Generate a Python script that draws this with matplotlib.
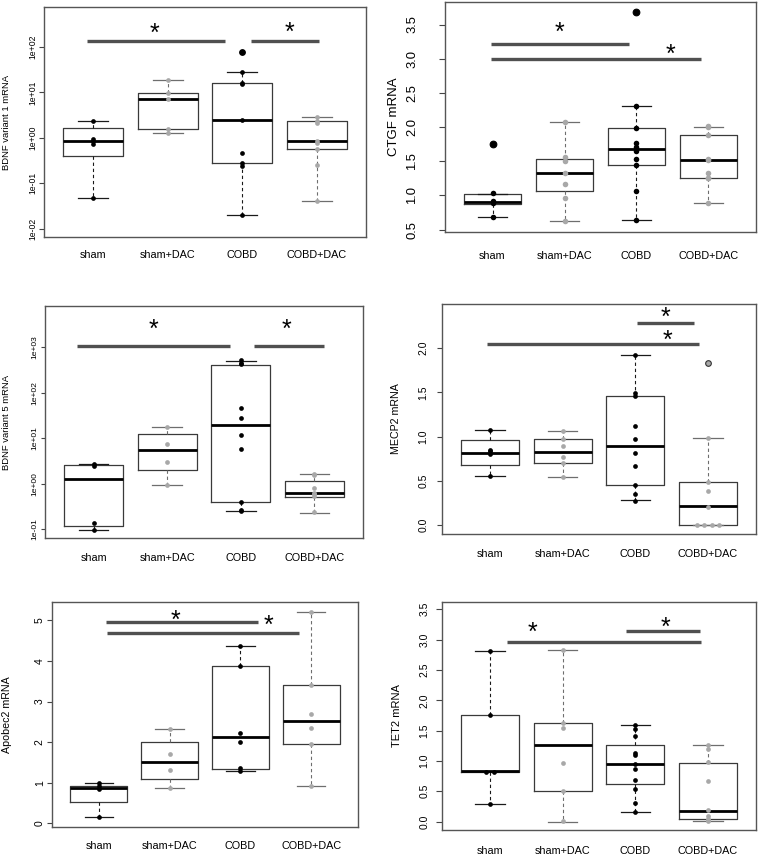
import matplotlib
matplotlib.use('Agg')
import matplotlib.pyplot as plt
import numpy as np

plt.rcParams['font.family'] = ['Liberation Sans', 'DejaVu Sans']

W, H = 758, 856
groups = ['sham', 'sham+DAC', 'COBD', 'COBD+DAC']
is_dac = [False, True, False, True]

# box stats per group: (lower whisker, q1, median, q3, upper whisker)
bdnf1_box = [(0.048, 0.40, 0.86, 1.63, 2.37), (1.29, 1.55, 7.0, 9.5, 19),
             (0.0197, 0.28, 2.45, 16, 28.6), (0.041, 0.58, 0.86, 2.4, 2.95)]
bdnf1_pts = [[2.37, 0.97, 0.85, 0.75, 0.048],
             [19, 9.7, 7.0, 1.6, 1.31],
             [77, 28.6, 16.3, 15.5, 2.45, 0.47, 0.286, 0.246, 0.0197],
             [2.95, 2.4, 2.1, 0.87, 0.76, 0.58, 0.26, 0.041]]

ctgf_box = [(0.69, 0.88, 0.91, 1.027, 1.027), (0.62, 1.07, 1.334, 1.534, 2.07),
            (0.64, 1.44, 1.68, 1.98, 2.31), (0.89, 1.26, 1.515, 1.88, 2.0)]
ctgf_pts = [[1.75, 1.03, 0.92, 0.885, 0.69],
            [2.07, 1.56, 1.51, 1.33, 1.17, 0.96, 0.62],
            [3.68, 2.31, 1.98, 1.77, 1.71, 1.65, 1.54, 1.45, 1.06, 0.64],
            [2.01, 2.0, 1.885, 1.54, 1.52, 1.33, 1.26, 1.25, 0.885]]

bdnf5_box = [(0.097, 0.115, 1.26, 2.55, 2.7), (0.94, 1.98, 5.36, 12.2, 17.7),
             (0.25, 0.385, 19.9, 416, 509), (0.23, 0.51, 0.62, 1.12, 1.64)]
bdnf5_pts = [[2.73, 2.38, 0.135, 0.0966],
             [17.7, 7.6, 2.97, 0.94],
             [525, 460, 437, 45.6, 28.4, 11.8, 5.83, 0.385, 0.266, 0.253],
             [1.64, 1.51, 0.78, 0.62, 0.60, 0.52, 0.237]]

mecp2_box = [(0.553, 0.677, 0.82, 0.959, 1.071), (0.541, 0.70, 0.831, 0.977, 1.064),
             (0.282, 0.455, 0.895, 1.459, 1.925), (0.0, 0.0, 0.214, 0.489, 0.989)]
mecp2_pts = [[1.071, 0.853, 0.84, 0.80, 0.556],
             [1.064, 0.977, 0.898, 0.767, 0.70, 0.541],
             [1.925, 1.489, 1.459, 1.12, 0.97, 0.82, 0.669, 0.459, 0.35, 0.278],
             [1.827, 0.989, 0.489, 0.387, 0.21, 0.0, 0.0, 0.0, 0.0]]

apobec2_box = [(0.165, 0.52, 0.873, 0.92, 1.005), (0.88, 1.087, 1.516, 2.01, 2.315),
               (1.293, 1.35, 2.125, 3.888, 4.374), (0.923, 1.944, 2.53, 3.40, 5.198)]
apobec2_pts = [[1.005, 0.93, 0.848, 0.165],
               [2.315, 1.72, 1.31, 0.88],
               [4.374, 3.888, 2.232, 2.01, 1.36, 1.293],
               [5.198, 3.40, 2.685, 2.356, 1.944, 0.923]]

tet2_box = [(0.292, 0.82, 0.835, 1.756, 2.807), (0.0, 0.512, 1.255, 1.618, 2.823),
            (0.154, 0.616, 0.952, 1.271, 1.585), (0.005, 0.044, 0.182, 0.974, 1.266)]
tet2_pts = [[2.807, 1.756, 0.826, 0.826, 0.292],
            [2.823, 1.624, 1.541, 0.963, 0.512, 0.005],
            [1.585, 1.53, 1.414, 1.128, 1.106, 0.947, 0.87, 0.682, 0.534, 0.314, 0.154],
            [1.266, 1.205, 0.985, 0.677, 0.187, 0.088, 0.05, 0.028, 0.005]]

log_ticks1 = [1e-2, 1e-1, 1, 10, 100]
log_ticks5 = [1e-1, 1, 10, 100, 1000]

panels = [
    dict(box=bdnf1_box, pts=bdnf1_pts, ylabel='BDNF variant 1 mRNA', log=True,
         px=(44, 7, 366, 237), ylim=(10 ** -2.18, 10 ** 2.88),
         yticks=log_ticks1, ylabels=['1e-02', '1e-01', '1e+00', '1e+01', '1e+02'],
         tfs=6.2, tpad=1.4, tlen=3.6, ylx=6.5, ylfs=6.8, xpad=9.4, ms=3.4,
         bars=[(0.92, 2.77, 133), (3.12, 4.03, 133)],
         stars=[(1.82, 10 ** 2.456), (3.63, 10 ** 2.49)]),
    dict(box=ctgf_box, pts=ctgf_pts, ylabel='CTGF mRNA', log=False,
         px=(445, 2, 756, 232), ylim=(0.466, 3.83),
         yticks=[0.5, 1.0, 1.5, 2.0, 2.5, 3.0, 3.5], ylabels=None,
         tfs=9.4, tpad=15, tlen=4.1, ylx=394, ylfs=9.5, xpad=13.7, ms=4,
         bars=[(0.98, 2.90, 3.22), (0.98, 3.90, 3.0)],
         stars=[(1.93, 3.49), (3.47, 3.17)]),
    dict(box=bdnf5_box, pts=bdnf5_pts, ylabel='BDNF variant 5 mRNA', log=True,
         px=(45, 306, 363, 538), ylim=(10 ** -1.198, 10 ** 3.908),
         yticks=log_ticks5, ylabels=['1e-01', '1e+00', '1e+01', '1e+02', '1e+03'],
         tfs=6.1, tpad=1.8, tlen=3.2, ylx=7, ylfs=6.8, xpad=10.8, ms=3.4,
         bars=[(0.78, 2.86, 1070), (3.18, 4.13, 1070)],
         stars=[(1.82, 10 ** 3.55), (3.62, 10 ** 3.55)]),
    dict(box=mecp2_box, pts=mecp2_pts, ylabel='MECP2 mRNA', log=False,
         px=(442, 304, 756, 534), ylim=(-0.098, 2.496),
         yticks=[0.0, 0.5, 1.0, 1.5, 2.0], ylabels=None,
         tfs=7.5, tpad=6.3, tlen=3.6, ylx=396, ylfs=7.7, xpad=10.8, ms=3.4,
         bars=[(3.02, 3.81, 2.278), (0.955, 3.87, 2.045)],
         stars=[(3.42, 2.43), (3.44, 2.17)]),
    dict(box=apobec2_box, pts=apobec2_pts, ylabel='Apobec2 mRNA', log=False,
         px=(52, 602, 358, 827), ylim=(-0.09, 5.453),
         yticks=[0, 1, 2, 3, 4, 5], ylabels=None,
         tfs=7.5, tpad=1.5, tlen=3.6, ylx=7, ylfs=7.7, xpad=10, ms=3.4,
         bars=[(1.105, 3.255, 4.96), (1.11, 3.82, 4.687)],
         stars=[(2.08, 5.18), (3.39, 5.06)]),
    dict(box=tet2_box, pts=tet2_pts, ylabel='TET2 mRNA', log=False,
         px=(442, 602, 756, 830), ylim=(-0.138, 3.62),
         yticks=[0.0, 0.5, 1.0, 1.5, 2.0, 2.5, 3.0, 3.5], ylabels=None,
         tfs=7.5, tpad=5, tlen=4.1, ylx=397, ylfs=8, xpad=11.5, ms=3.4,
         bars=[(2.87, 3.895, 3.148), (1.24, 3.91, 2.96)],
         stars=[(1.58, 3.25), (3.41, 3.33)]),
]

fig = plt.figure(figsize=(W / 100, H / 100), dpi=100)

for p in panels:
    l, t, r, b = p['px']
    ax = fig.add_axes([l / W, 1 - b / H, (r - l) / W, (b - t) / H])
    if p['log']:
        ax.set_yscale('log')

    stats = [dict(whislo=s[0], q1=s[1], med=s[2], q3=s[3], whishi=s[4], fliers=[])
             for s in p['box']]
    bp = ax.bxp(stats, positions=[1, 2, 3, 4], widths=0.8, showfliers=False)
    for i in range(4):
        c = '#6e6e6e' if is_dac[i] else '#1a1a1a'
        bp['boxes'][i].set(color='#3a3a3a', linewidth=0.9)
        bp['medians'][i].set(color='black', linewidth=2.0)
        for w in bp['whiskers'][2 * i:2 * i + 2]:
            w.set(color=c, linewidth=0.8, linestyle=(0, (3, 2.5)))
        for cp in bp['caps'][2 * i:2 * i + 2]:
            cp.set(color=c, linewidth=0.9)

    # data points (ties spread sideways a little)
    for i, vals in enumerate(p['pts']):
        col = '#a8a8a8' if is_dac[i] else 'black'
        lo, hi = p['box'][i][0], p['box'][i][4]
        for v in set(vals):
            n = vals.count(v)
            xs = i + 1 + (np.arange(n) - (n - 1) / 2) * 0.1
            out = v > hi * 1.3 or v < lo * 0.7
            if out:
                ax.plot(xs, [v] * n, 'o', ms=p['ms'] * 1.2, color=col,
                        mec='#333333' if is_dac[i] else 'black', mew=0.8, zorder=4)
            else:
                ax.plot(xs, [v] * n, 'o', ms=p['ms'], color=col, mew=0, zorder=4)

    for x0, x1, y in p['bars']:
        ax.plot([x0, x1], [y, y], color='#505050', linewidth=2.4, solid_capstyle='butt')
    for sx, sy in p['stars']:
        ax.annotate('*', (sx, sy), xytext=(0, -0.6 * 18), textcoords='offset points',
                    ha='center', va='baseline', fontsize=18)

    ax.set_xlim(0.34, 4.66)
    ax.set_ylim(*p['ylim'])
    ax.set_xticks([1, 2, 3, 4])
    ax.set_xticklabels(groups, fontsize=7.8)
    ax.tick_params(axis='x', length=0, pad=p['xpad'])
    ax.minorticks_off()
    ax.set_yticks(p['yticks'])
    if p['ylabels'] is not None:
        ax.set_yticklabels(p['ylabels'])
    else:
        ax.set_yticklabels([f'{v:g}' if isinstance(v, int) else f'{v:.1f}' for v in p['yticks']])
    ax.tick_params(axis='y', labelsize=p['tfs'], length=p['tlen'], pad=p['tpad'],
                   width=0.8, color='#444444', labelrotation=90)
    plt.setp(ax.get_yticklabels(), va='center')
    for sp in ax.spines.values():
        sp.set_color('#555555')
        sp.set_linewidth(1.0)

    fig.text(p['ylx'] / W, 1 - (t + b) / 2 / H, p['ylabel'], rotation=90,
             ha='center', va='center', fontsize=p['ylfs'])

fig.savefig('out.png', dpi=100)
